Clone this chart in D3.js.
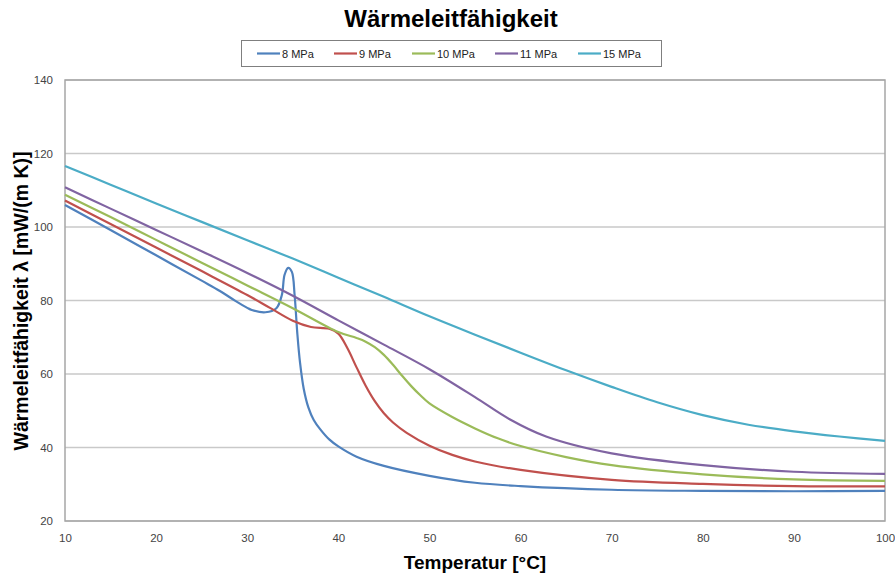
<!DOCTYPE html>
<html>
<head>
<meta charset="utf-8">
<script src="https://cdn.jsdelivr.net/npm/d3@7"></script>
<style>
  body { margin: 0; background: #fff; }
  svg { display: block; font-family: "Liberation Sans", Arial, sans-serif; }
</style>
</head>
<body>
<svg id="chart" width="895" height="574"></svg>
<script>
// Reihen: Temperatur [°C] und Wärmeleitfähigkeit [mW/(m K)] je Druck
var seriesNames = ["8 MPa", "9 MPa", "10 MPa", "11 MPa", "15 MPa"];
var seriesColors = ["#4f81bd", "#c0504d", "#9bbb59", "#8064a2", "#4bacc6"];

var temp8 = [10, 15, 20, 25, 27, 28.7, 30, 30.5, 32, 33.2, 33.8, 34.1, 34.5, 34.9, 35.2, 35.5, 35.8, 36.2, 36.7, 37.3, 38, 39, 40, 42, 45, 50, 55, 60, 70, 80, 90, 100];
var val8  = [106, 99.2, 92.3, 85.4, 82.6, 79.9, 78, 77.4, 76.8, 77.9, 81.5, 87, 88.9, 87.8, 81.5, 71, 63, 56, 51, 47.5, 45, 42.2, 40.3, 37.5, 35, 32.3, 30.4, 29.5, 28.5, 28.2, 28.1, 28.2];

var temp9 = [10, 15, 20, 25, 30, 32.5, 35, 37, 39, 40, 41, 42, 43, 44, 45, 46, 47.5, 50, 52.5, 55, 60, 70, 80, 90, 100];
var val9  = [107.2, 100.8, 94.4, 88, 81.5, 78, 74.5, 72.8, 72.3, 71, 67, 61.8, 56.8, 52.6, 49.3, 46.8, 44, 40.5, 38, 36.2, 33.9, 31.2, 30.1, 29.5, 29.4];

var temp10 = [10, 15, 20, 25, 30, 35, 40, 42, 43, 44, 45, 46, 47, 48, 49, 50, 52.5, 55, 57.5, 60, 65, 70, 80, 90, 100];
var val10  = [108.8, 102.7, 96.5, 90.3, 84.1, 77.9, 71.4, 69.8, 68.8, 67.3, 65.2, 62.5, 59.5, 56.7, 54.2, 52, 48.3, 45.2, 42.5, 40.4, 37.4, 35.2, 32.7, 31.3, 30.9];

var temp11 = [10, 15, 20, 25, 30, 35, 40, 45, 50, 55, 58.8, 62.8, 70, 80, 90, 100];
var val11  = [110.8, 105, 99.2, 93.4, 87.5, 81.3, 74.6, 68, 61.3, 53.7, 47.7, 43, 38.4, 35.2, 33.4, 32.8];

var temp15 = [10, 15, 20, 25, 30, 35, 40, 45, 50, 55, 60, 65, 70, 75, 80, 85, 90, 95, 100];
var val15  = [116.6, 111.5, 106.4, 101.4, 96.4, 91.4, 86.2, 81, 75.7, 70.7, 65.8, 61, 56.5, 52.3, 48.8, 46.2, 44.4, 43, 41.8];

var xTicks = [10, 20, 30, 40, 50, 60, 70, 80, 90, 100];
var yTicks = [20, 40, 60, 80, 100, 120, 140];

var temps = [temp8, temp9, temp10, temp11, temp15];
var vals = [val8, val9, val10, val11, val15];

var svg = d3.select("#chart");
var plotLeft = 65, plotRight = 885, plotTop = 80, plotBottom = 521;

var x = d3.scaleLinear().domain([10, 100]).range([plotLeft, plotRight]);
var y = d3.scaleLinear().domain([20, 140]).range([plotBottom, plotTop]);

// Gitterlinien
svg.append("g").selectAll("line")
  .data(yTicks)
  .enter().append("line")
  .attr("x1", plotLeft).attr("x2", plotRight)
  .attr("y1", function (d) { return y(d); })
  .attr("y2", function (d) { return y(d); })
  .attr("stroke", "#c9c9c9")
  .attr("stroke-width", 1.5);

// Rahmen
svg.append("rect")
  .attr("x", plotLeft).attr("y", plotTop)
  .attr("width", plotRight - plotLeft).attr("height", plotBottom - plotTop)
  .attr("fill", "none")
  .attr("stroke", "#a6a6a6")
  .attr("stroke-width", 1.5);

// Achsen
var yAxis = svg.append("g")
  .attr("transform", "translate(" + plotLeft + ",0)")
  .call(d3.axisLeft(y).tickValues(yTicks).tickSize(0).tickPadding(12));
var xAxis = svg.append("g")
  .attr("transform", "translate(0," + plotBottom + ")")
  .call(d3.axisBottom(x).tickValues(xTicks).tickSize(0).tickPadding(13));
[yAxis, xAxis].forEach(function (a) {
  a.select(".domain").remove();
  a.selectAll("text")
    .attr("fill", "#444")
    .style("font-size", "11.5px")
    .style("font-family", "'Liberation Sans', Arial, sans-serif");
});

// Kurven
var line = d3.line()
  .x(function (d) { return x(d[0]); })
  .y(function (d) { return y(d[1]); })
  .curve(d3.curveCatmullRom.alpha(0.5));

for (var i = 0; i < seriesNames.length; i++) {
  var pts = d3.zip(temps[i], vals[i]);
  svg.append("path")
    .datum(pts)
    .attr("d", line)
    .attr("fill", "none")
    .attr("stroke", seriesColors[i])
    .attr("stroke-width", 2.2)
    .attr("stroke-linejoin", "round");
}

// Titel
svg.append("text")
  .attr("x", 451).attr("y", 27)
  .attr("text-anchor", "middle")
  .style("font-size", "24px")
  .style("font-weight", "bold")
  .text("Wärmeleitfähigkeit");

// Legende
svg.append("rect")
  .attr("x", 241.5).attr("y", 40.5)
  .attr("width", 420).attr("height", 26)
  .attr("fill", "#fff")
  .attr("stroke", "#7f7f7f")
  .attr("stroke-width", 1);

var legendX = [257, 334, 412, 495, 578];
var legend = svg.append("g").selectAll("g")
  .data(seriesNames)
  .enter().append("g")
  .attr("transform", function (d, i) { return "translate(" + legendX[i] + ",53.5)"; });
legend.append("line")
  .attr("x1", 0).attr("x2", 23)
  .attr("stroke", function (d, i) { return seriesColors[i]; })
  .attr("stroke-width", 2.2);
legend.append("text")
  .attr("x", 25).attr("y", 4)
  .style("font-size", "11px")
  .attr("fill", "#222")
  .text(function (d) { return d; });

// Achsentitel
svg.append("text")
  .attr("x", 475).attr("y", 569)
  .attr("text-anchor", "middle")
  .style("font-size", "19px")
  .style("font-weight", "bold")
  .text("Temperatur [°C]");

svg.append("text")
  .attr("transform", "translate(28,301) rotate(-90)")
  .attr("text-anchor", "middle")
  .style("font-size", "19.5px")
  .style("font-weight", "bold")
  .text("Wärmeleitfähigkeit  λ [mW/(m K)]");
</script>
</body>
</html>
